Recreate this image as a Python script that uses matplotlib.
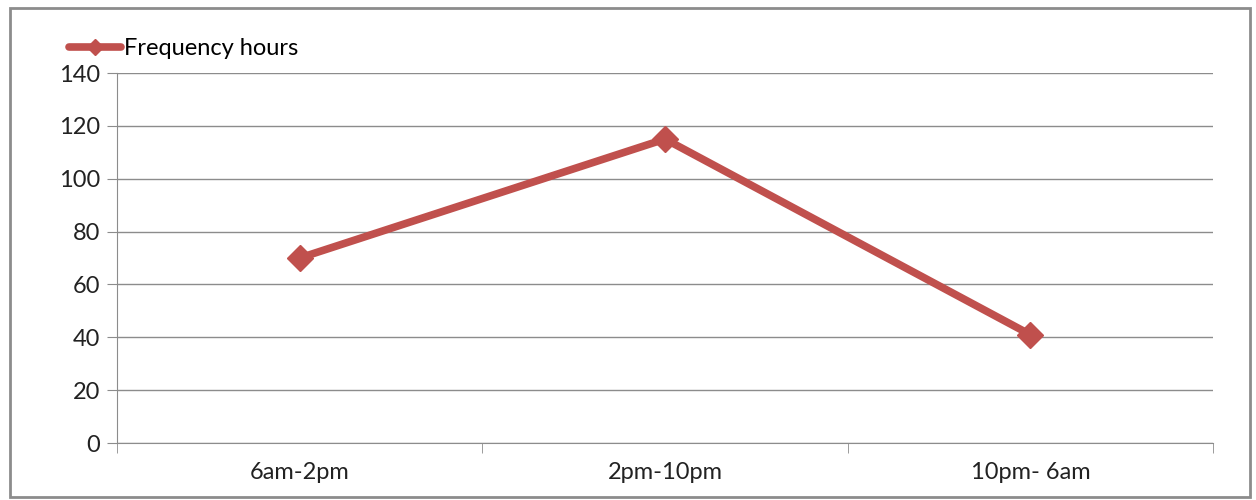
import numpy as np
import matplotlib.pyplot as plt
from matplotlib.patches import Rectangle

shifts = ['6am-2pm', '2pm-10pm', '10pm- 6am']
hours = [70, 115, 41]
yticks = [0, 20, 40, 60, 80, 100, 120, 140]


def main():
    plt.rcParams['font.family'] = ['Lato', 'DejaVu Sans']
    fig = plt.figure(figsize=(12.56, 5), dpi=100)
    ax = fig.add_axes([117/1256, 57/500, (1213-117)/1256, (443-73)/500])

    # outer frame like the excel chart area
    fig.patches.append(Rectangle((10/1256, 3/500), 1240/1256, 489/500, transform=fig.transFigure,
                                 fill=False, edgecolor='#8c8c8c', linewidth=2))

    x = np.arange(len(shifts))
    ax.plot(x, hours, color='#C0504D', linewidth=5.5, marker='D', markersize=13,
            label='Frequency hours', solid_capstyle='round')

    ax.set_xlim(-0.5, len(shifts) - 0.5)
    ax.set_ylim(0, 140)
    ax.set_yticks(yticks)
    ax.set_yticklabels([str(v) for v in yticks], fontsize=17, color='#222222')
    ax.set_xticks(x)
    ax.set_xticklabels(shifts, fontsize=17, color='#222222')
    ax.tick_params(axis='x', length=0, pad=14)
    ax.set_xticks(np.arange(-0.5, len(shifts)), minor=True)
    ax.tick_params(axis='x', which='minor', length=7, color='#8c8c8c', direction='out')
    ax.tick_params(axis='y', length=7, color='#8c8c8c', direction='out', pad=5)
    ax.grid(axis='y', color='#8c8c8c', linewidth=1)
    ax.set_axisbelow(True)
    for s in ['top', 'right']:
        ax.spines[s].set_visible(False)
    for s in ['left', 'bottom']:
        ax.spines[s].set_color('#8c8c8c')

    ax.legend(loc='lower left', bbox_to_anchor=(-0.052, 1.012), frameon=False, fontsize=17,
              handlelength=2.2, handletextpad=0.1, borderaxespad=0.0, markerscale=0.6)

    fig.savefig('out.png', dpi=100)


if __name__ == "__main__":
    main()
